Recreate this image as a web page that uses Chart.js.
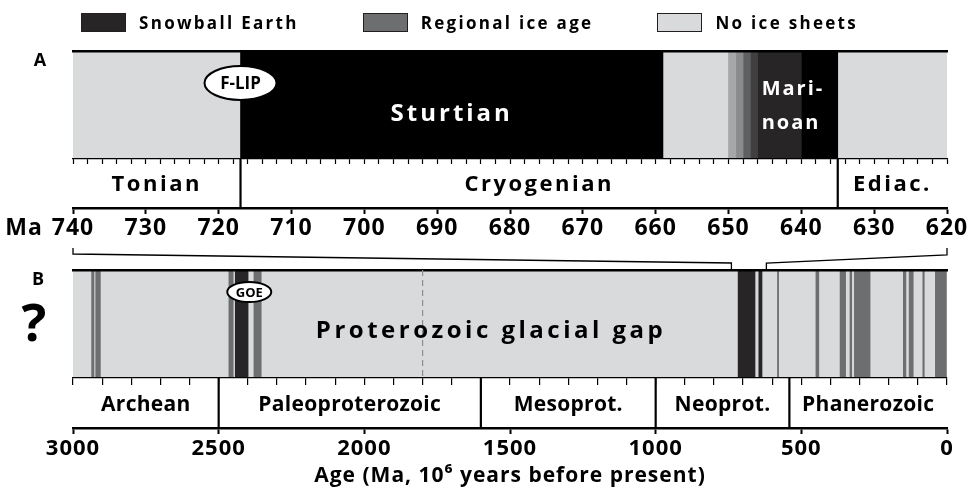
<!DOCTYPE html>
<html lang="en">
<head>
<meta charset="utf-8">
<title>Snowball Earth glaciations</title>
<script src="https://cdn.jsdelivr.net/npm/chart.js@4.4.1/dist/chart.umd.min.js"></script>
<style>
  html, body { margin: 0; padding: 0; background: #fff; }
  #page { position: relative; width: 971px; height: 490px; overflow: hidden; font-family: 'Open Sans', 'DejaVu Sans', sans-serif; }
  .panel { position: absolute; left: 0; width: 971px; height: 245px; }
  #panelA { top: 0; }
  #panelB { top: 245px; }
  #legend { position: absolute; top: 13px; left: 81px; display: flex; gap: 64px; z-index: 2;
            font-weight: 700; font-size: 17px; letter-spacing: 2.3px; color: #000; }
  #legend .item { display: flex; align-items: center; gap: 13px; height: 19px; }
  #legend .swatch { width: 45px; height: 19px; box-sizing: border-box; border: 1.5px solid #231f20; }
</style>
</head>
<body>
<div id="page">
  <div class="panel" id="panelA"><canvas id="chartA"></canvas></div>
  <div class="panel" id="panelB"><canvas id="chartB"></canvas></div>
  <div id="legend"></div>
</div>
<script>
// ice states shown in the legend
const iceKinds  = ['snowball', 'regional', 'none'];
const iceLabels = ['Snowball Earth', 'Regional ice age', 'No ice sheets'];

// Panel A: Cryogenian close-up (Ma)
const spanA = [740, 620];
const iceStartA = [717, 650, 649, 648, 647, 646, 640];
const iceEndA   = [659, 649, 648, 647, 646, 640, 635];
const iceKindA  = ['core', 'onset1', 'onset2', 'onset3', 'onset4', 'snowball', 'core'];
const periodA      = ['Tonian', 'Cryogenian', 'Ediac.'];
const periodStartA = [740, 717, 635];
const periodEndA   = [717, 635, 620];
const ticksA = [740, 730, 720, 710, 700, 690, 680, 670, 660, 650, 640, 630, 620];
const sturtianA = [717, 659];
const marinoanA = [646, 635];
const flipAgeA = 717;

// Panel B: 3000 Ma to present
const spanB = [3000, 0];
const iceStartB = [2936, 2922, 2465, 2443, 2379, 717, 646, 582, 450, 367, 333, 318, 150, 130, 83, 40];
const iceEndB   = [2928, 2906, 2450, 2399, 2354, 659, 635, 578, 440, 348, 327, 264, 141, 116, 78, 0];
const iceKindB  = ['regional', 'regional', 'regional', 'snowball', 'regional', 'snowball', 'snowball', 'regional',
                   'regional', 'regional', 'regional', 'regional', 'regional', 'regional', 'regional', 'regional'];
const periodB      = ['Archean', 'Paleoproterozoic', 'Mesoprot.', 'Neoprot.', 'Phanerozoic'];
const periodStartB = [3000, 2500, 1600, 1000, 541];
const periodEndB   = [2500, 1600, 1000, 541, 0];
const ticksB = [3000, 2500, 2000, 1500, 1000, 500, 0];
const gapMarkB = 1800;
const goeAgeB = 2395;
const gapLabelAgeB = 1565;

const FONT = "'Open Sans', 'DejaVu Sans', sans-serif";
const iceColor = {
  none: '#d9dadc', snowball: '#272526', regional: '#6d6e70', core: '#000000',
  onset1: '#a6a7a9', onset2: '#8a8b8d', onset3: '#5f6062', onset4: '#404042'
};

Chart.defaults.font.family = FONT;
Chart.defaults.color = '#000';

// legend
const legendEl = document.getElementById('legend');
iceKinds.forEach((k, i) => {
  const item = document.createElement('div');
  item.className = 'item';
  const sw = document.createElement('span');
  sw.className = 'swatch';
  sw.style.background = iceColor[k];
  const tx = document.createElement('span');
  tx.textContent = iceLabels[i];
  item.append(sw, tx);
  legendEl.append(item);
});

// Chart.js paints the first dataset on top, so the ice-free background goes last
function bandSets(span, starts, ends, kinds) {
  const sets = starts.map((s, i) => ({ label: kinds[i], data: [[s, ends[i]]], backgroundColor: iceColor[kinds[i]] }));
  sets.push({ label: 'none', data: [[span[0], span[1]]], backgroundColor: iceColor.none });
  sets.forEach(d => Object.assign(d, {
    xAxisID: 'x', yAxisID: 'y', grouped: false, barPercentage: 1, categoryPercentage: 1, borderWidth: 0
  }));
  return sets;
}

function textAt(ctx, str, x, y, font, color, spacing, align) {
  ctx.save();
  ctx.font = font;
  ctx.fillStyle = color;
  ctx.textAlign = align || 'center';
  ctx.textBaseline = 'middle';
  if ('letterSpacing' in ctx) ctx.letterSpacing = (spacing || 0) + 'px';
  ctx.fillText(str, x, y);
  ctx.restore();
}

function bubble(ctx, str, x, y, rx, ry, font) {
  ctx.save();
  ctx.beginPath();
  ctx.ellipse(x, y, rx, ry, 0, 0, Math.PI * 2);
  ctx.fillStyle = '#fff';
  ctx.fill();
  ctx.lineWidth = 2;
  ctx.strokeStyle = '#000';
  ctx.stroke();
  ctx.restore();
  textAt(ctx, str, x, y + 1, font, '#000', 0);
}

const spacedTicks = {
  id: 'spacedTicks',
  beforeDraw(chart) {
    if ('letterSpacing' in chart.ctx) chart.ctx.letterSpacing = '1px';
  }
};

// geologic period cells sit in the band taken by the minor-tick axis
function periodRow(names, starts, ends, font, spacing, dy) {
  return {
    id: 'periodRow',
    afterDraw(chart) {
      const ctx = chart.ctx;
      const sx = chart.scales.x;
      names.forEach((name, i) => {
        const x0 = sx.getPixelForValue(starts[i]);
        const x1 = sx.getPixelForValue(ends[i]);
        if (i > 0) {
          ctx.save();
          ctx.strokeStyle = '#000';
          ctx.lineWidth = 2.2;
          ctx.beginPath();
          ctx.moveTo(x0, sx.top);
          ctx.lineTo(x0, sx.bottom);
          ctx.stroke();
          ctx.restore();
        }
        textAt(ctx, name, (x0 + x1) / 2, (sx.top + sx.bottom) / 2 + dy, font, '#000', spacing);
      });
    }
  };
}

const hiddenY = () => ({
  type: 'category', labels: ['ice'], display: true,
  ticks: { display: false }, grid: { display: false, drawTicks: false }, border: { display: false },
  afterFit: s => { s.width = 73; }
});

const topLine = span => ({
  type: 'linear', position: 'top', min: span[1], max: span[0], reverse: true,
  ticks: { display: false }, grid: { display: false, drawTicks: false },
  border: { color: '#000', width: 2.5, z: 1 },
  afterFit: s => { s.height = 0; }
});

const notesA = {
  id: 'notesA',
  afterDraw(chart) {
    const ctx = chart.ctx;
    const a = chart.chartArea;
    const sx = chart.scales.x;
    const s2 = chart.scales.x2;
    textAt(ctx, 'A', 40, 61, 'bold 18px ' + FONT, '#000', 0);
    textAt(ctx, 'Ma', 24, s2.top + 6 + 3 + 11.5, 'bold 23px ' + FONT, '#000', 1);
    const sMid = sx.getPixelForValue((sturtianA[0] + sturtianA[1]) / 2);
    textAt(ctx, 'Sturtian', sMid, a.top + 63, 'bold 24px ' + FONT, '#fff', 3);
    const mx = sx.getPixelForValue(marinoanA[0]) + 4;
    textAt(ctx, 'Mari-', mx, a.top + 38, 'bold 20px ' + FONT, '#fff', 2, 'left');
    textAt(ctx, 'noan', mx, a.top + 72, 'bold 20px ' + FONT, '#fff', 2, 'left');
    bubble(ctx, 'F-LIP', sx.getPixelForValue(flipAgeA), a.top + 32, 36, 17, 'bold 17px ' + FONT);
  }
};

const notesB = {
  id: 'notesB',
  afterDraw(chart) {
    const ctx = chart.ctx;
    const a = chart.chartArea;
    const sx = chart.scales.x;
    textAt(ctx, 'B', 38, 35, 'bold 18px ' + FONT, '#000', 0);
    textAt(ctx, '?', 34, a.top + 56, 'bold 52px ' + FONT, '#000', 0);
    textAt(ctx, 'Proterozoic glacial gap', sx.getPixelForValue(gapLabelAgeB), a.top + 61, 'bold 24px ' + FONT, '#000', 3.5);
    bubble(ctx, 'GOE', sx.getPixelForValue(goeAgeB), a.top + 22, 22, 10, 'bold 13px ' + FONT);

    // zoom connectors from panel A's range down to its place on this axis
    const pa = sx.getPixelForValue(spanA[0]);
    const pb = sx.getPixelForValue(spanA[1]);
    ctx.save();
    ctx.strokeStyle = '#000';
    ctx.lineWidth = 1.3;
    ctx.beginPath();
    ctx.moveTo(a.left, a.top - 22);
    ctx.lineTo(a.left, a.top - 16);
    ctx.lineTo(pa, a.top - 7);
    ctx.lineTo(pa, a.top);
    ctx.moveTo(a.right, a.top - 22);
    ctx.lineTo(a.right, a.top - 15);
    ctx.lineTo(pb, a.top - 7);
    ctx.lineTo(pb, a.top);
    ctx.stroke();
    ctx.restore();
  }
};

new Chart(document.getElementById('chartA'), {
  type: 'bar',
  data: { labels: ['ice'], datasets: bandSets(spanA, iceStartA, iceEndA, iceKindA) },
  options: {
    indexAxis: 'y',
    responsive: true,
    maintainAspectRatio: false,
    animation: false,
    layout: { padding: { top: 51, right: 24, bottom: 2, left: 0 } },
    plugins: { legend: { display: false }, tooltip: { enabled: false } },
    scales: {
      y: hiddenY(),
      xTop: topLine(spanA),
      x: {
        type: 'linear', position: 'bottom', weight: 0, min: spanA[1], max: spanA[0], reverse: true,
        ticks: { display: false, stepSize: 2 },
        grid: { drawOnChartArea: false, tickLength: 5, tickWidth: 1.2, tickColor: '#000', z: 1 },
        border: { color: '#000', width: 1.2, z: 1 },
        afterFit: s => { s.height = 49; }
      },
      x2: {
        type: 'linear', position: 'bottom', weight: 1, min: spanA[1], max: spanA[0], reverse: true,
        afterBuildTicks: s => { s.ticks = ticksA.map(v => ({ value: v })); },
        ticks: { autoSkip: false, maxRotation: 0, padding: 3, color: '#000',
                 font: { size: 23, weight: 'bold', lineHeight: 1 }, callback: v => String(v) },
        grid: { drawOnChartArea: false, tickLength: 6, tickWidth: 2, tickColor: '#000' },
        border: { color: '#000', width: 2.5 }
      }
    }
  },
  plugins: [spacedTicks, periodRow(periodA, periodStartA, periodEndA, 'bold 22px ' + FONT, 2.5, 1), notesA]
});

new Chart(document.getElementById('chartB'), {
  type: 'bar',
  data: { labels: ['ice'], datasets: bandSets(spanB, iceStartB, iceEndB, iceKindB) },
  options: {
    indexAxis: 'y',
    responsive: true,
    maintainAspectRatio: false,
    animation: false,
    layout: { padding: { top: 25, right: 24, bottom: 3, left: 0 } },
    plugins: { legend: { display: false }, tooltip: { enabled: false } },
    scales: {
      y: hiddenY(),
      xTop: topLine(spanB),
      x: {
        type: 'linear', position: 'bottom', weight: 0, min: spanB[1], max: spanB[0], reverse: true,
        ticks: { display: false, stepSize: 100 },
        grid: {
          drawOnChartArea: true, z: 1, lineWidth: 1.2,
          color: c => (c.tick && c.tick.value === gapMarkB) ? '#8e8e90' : 'rgba(0,0,0,0)',
          tickLength: 7, tickWidth: 1.2, tickColor: '#000'
        },
        border: { color: '#000', width: 1.2, dash: [6, 4], z: 1 },
        afterFit: s => { s.height = 50; }
      },
      x2: {
        type: 'linear', position: 'bottom', weight: 1, min: spanB[1], max: spanB[0], reverse: true,
        afterBuildTicks: s => { s.ticks = ticksB.map(v => ({ value: v })); },
        ticks: { autoSkip: false, maxRotation: 0, padding: 4, color: '#000',
                 font: { size: 22, weight: 'bold', lineHeight: 1 }, callback: v => String(v) },
        grid: { drawOnChartArea: false, tickLength: 6, tickWidth: 2, tickColor: '#000' },
        border: { color: '#000', width: 2.5 },
        title: { display: true, text: 'Age (Ma, 10⁶ years before present)', color: '#000',
                 font: { size: 21, weight: 'bold', lineHeight: 1 }, padding: { top: 2, bottom: 0 } }
      }
    }
  },
  plugins: [spacedTicks, periodRow(periodB, periodStartB, periodEndB, 'bold 21px ' + FONT, 0.3, 2), notesB]
});
</script>
</body>
</html>
